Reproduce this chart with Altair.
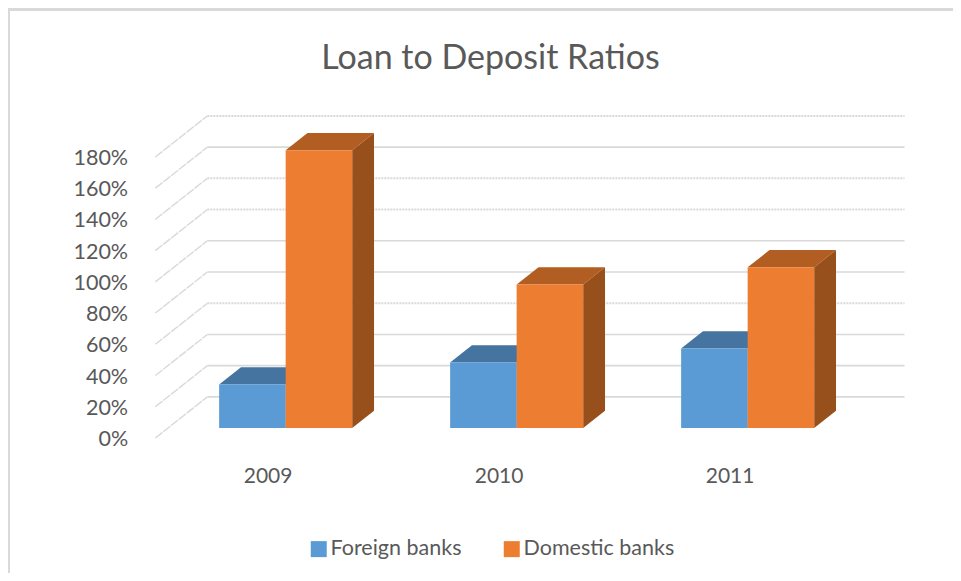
import altair as alt
import pandas as pd

years = [2009, 2010, 2011]
foreign = [28, 42, 51]
domestic = [178, 92, 103]
series_names = ["Foreign banks", "Domestic banks"]
ticks = [0, 20, 40, 60, 80, 100, 120, 140, 160, 180]
soft_ticks = [60, 120, 140, 180]  # wall lines that look dotted in the picture

FONT = "Lato"
TEXT = "#595959"
GRID = "#d9d9d9"
BLUE, BLUE_TOP, BLUE_SIDE = "#5b9bd5", "#44749f", "#3a6a94"
ORANGE, ORANGE_TOP, ORANGE_SIDE = "#ed7d31", "#b25e22", "#97501c"

# Scales: x is in years, y in percent; the wall is shifted back by a fixed oblique offset.
W, H = 945, 565
X_DOM = [2007.874, 2011.965]
Y_DOM = [-86.5, 275.4]
DX, DY = 0.2251, 26.3          # full depth of the floor, in data units
D0, D1 = 0.24, 0.66            # bar depth range
BAR = 0.288                    # single bar width, years
CENTER = 0.022                 # bars sit slightly right of the year label

xs = alt.Scale(domain=X_DOM, nice=False, zero=False)
ys = alt.Scale(domain=Y_DOM, nice=False, zero=False)
FLOOR_L, FLOOR_R = 2008.512, 2011.530


def X(f, **k):
    return alt.X(f, type="quantitative", scale=xs, axis=None, **k)


def Y(f, **k):
    return alt.Y(f, type="quantitative", scale=ys, axis=None, **k)


# ---- grid ----
wall, diag = [], []
for t in ticks:
    kind = "soft" if t in soft_ticks else "solid"
    wall += [{"id": t, "kind": kind, "x": FLOOR_L + DX, "y": t + DY},
             {"id": t, "kind": kind, "x": FLOOR_R + DX, "y": t + DY}]
    diag += [{"id": t, "x": FLOOR_L, "y": t}, {"id": t, "x": FLOOR_L + DX, "y": t + DY}]
wall = pd.DataFrame(wall)
diag = pd.DataFrame(diag)

grid_solid = alt.Chart(wall[wall.kind == "solid"]).mark_line(color=GRID, strokeWidth=1.6).encode(
    x=X("x"), y=Y("y"), detail="id:N")
grid_soft = alt.Chart(wall[wall.kind == "soft"]).mark_line(
    color=GRID, strokeWidth=2, strokeDash=[2, 1]).encode(x=X("x"), y=Y("y"), detail="id:N")
grid_diag = alt.Chart(diag).mark_line(color=GRID, strokeWidth=1.4, strokeDash=[9, 1]).encode(
    x=X("x"), y=Y("y"), detail="id:N")

# ---- bars ----
front, top, side = [], [], []
for yr, f_val, d_val in zip(years, foreign, domestic):
    for name, val, left in ((series_names[0], f_val, -BAR), (series_names[1], d_val, 0.0)):
        x0 = yr + CENTER + left + D0 * DX
        x1 = x0 + BAR
        dx = (D1 - D0) * DX
        dy = (D1 - D0) * DY
        y0 = D0 * DY
        front.append({"s": name, "x": x0, "x2": x1, "y": y0, "y2": y0 + val})
        key = f"{yr}{name}"
        top += [{"s": name, "id": key, "x": x0, "x2": x1, "y": y0 + val},
                {"s": name, "id": key, "x": x0 + dx, "x2": x1 + dx, "y": y0 + val + dy}]
        side += [{"s": name, "id": key, "x": x1, "y": y0, "y2": y0 + val},
                 {"s": name, "id": key, "x": x1 + dx, "y": y0 + dy, "y2": y0 + val + dy}]
front, top, side = pd.DataFrame(front), pd.DataFrame(top), pd.DataFrame(side)


def faces(name, c_top, c_side):
    t = alt.Chart(top[top.s == name]).mark_area(orient="horizontal", color=c_top).encode(
        y=Y("y"), x=X("x"), x2="x2:Q", detail="id:N")
    s = alt.Chart(side[side.s == name]).mark_area(orient="vertical", color=c_side).encode(
        x=X("x"), y=Y("y"), y2="y2:Q", detail="id:N")
    return t, s


legend = alt.Legend(
    title=None, orient="none", direction="horizontal", legendX=300, legendY=530,
    symbolType="square", symbolSize=256, symbolStrokeWidth=0, labelFont=FONT, labelFontSize=21.5,
    labelColor=TEXT, columnPadding=39, labelOffset=1, labelLimit=300)


def front_layer(name):
    return alt.Chart(front[front.s == name]).mark_rect().encode(
        x=X("x"), x2="x2:Q", y=Y("y"), y2="y2:Q",
        color=alt.Color("s:N", scale=alt.Scale(domain=series_names, range=[BLUE, ORANGE]), legend=legend),
    )


bt, bs = faces(series_names[0], BLUE_TOP, BLUE_SIDE)
ot, os_ = faces(series_names[1], ORANGE_TOP, ORANGE_SIDE)

# ---- text ----
y_text = pd.DataFrame({"t": ticks, "label": [f"{t}%" for t in ticks], "x": [2008.394] * len(ticks)})
y_labels = alt.Chart(y_text).mark_text(
    align="right", baseline="middle", font=FONT, fontSize=21.5, color=TEXT, dy=2).encode(
    x=X("x"), y=Y("t"), text="label:N")

x_text = pd.DataFrame({"x": years, "y": [-25] * 3, "label": [str(y) for y in years]})
x_labels = alt.Chart(x_text).mark_text(
    align="center", baseline="middle", font=FONT, fontSize=21, color=TEXT).encode(
    x=X("x"), y=Y("y"), text="label:N")

# ---- frame ----
frame_left = alt.Chart(pd.DataFrame({"a": [0]})).mark_rule(color=GRID, strokeWidth=2).encode(
    x=alt.value(1), y=alt.value(0), y2=alt.value(H))
frame_top = alt.Chart(pd.DataFrame({"a": [0]})).mark_rule(color=GRID, strokeWidth=3).encode(
    y=alt.value(1.5), x=alt.value(0), x2=alt.value(W))

chart = alt.layer(
    frame_left, frame_top, grid_solid, grid_soft, grid_diag,
    bt, bs, front_layer(series_names[0]),
    ot, os_, front_layer(series_names[1]),
    y_labels, x_labels,
).properties(
    width=W, height=H, padding=0, autosize=alt.AutoSizeParams(type="none"),
    title=alt.TitleParams(
        text="Loan to Deposit Ratios", anchor="middle", dx=10, dy=69, offset=0,
        font=FONT, fontSize=34, fontWeight="normal", color=TEXT),
).configure_view(stroke=None).configure(background="white")

chart.save("out.html", embed_options={"renderer": "svg", "actions": False})
